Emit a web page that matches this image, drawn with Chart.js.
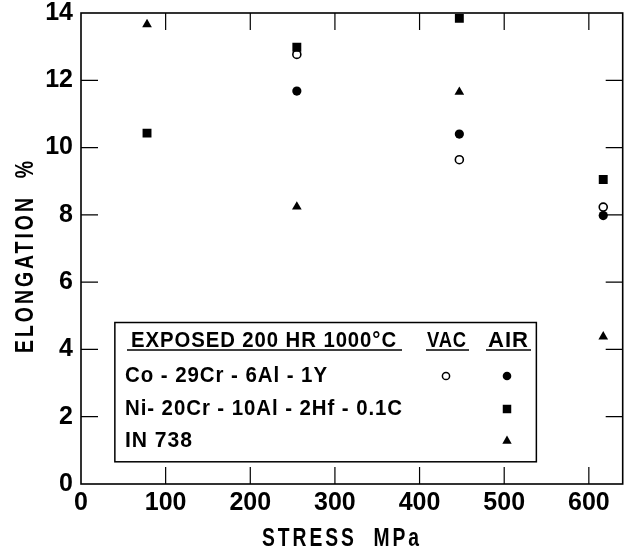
<!DOCTYPE html>
<html>
<head>
<meta charset="utf-8">
<script src="https://cdn.jsdelivr.net/npm/chart.js@4.4.0/dist/chart.umd.min.js"></script>
<style>
  html, body { margin: 0; padding: 0; background: #fff; }
  #wrap { width: 629px; height: 552px; }
</style>
</head>
<body>
<div id="wrap"><canvas id="elongChart" width="629" height="552"></canvas></div>
<script>
// stress levels (MPa) the samples were tested at
const stressLevels = [78, 255, 447, 617];
// elongation % at each stress level (null = not tested)
const coVac    = [null, 12.77, 9.64, 8.23];
const coAir    = [null, 11.68, 10.40, 7.98];
const niAir    = [10.43, 12.98, 13.84, 9.05];
const in738Air = [13.66, 8.24, 11.65, 4.38];

const xTicks = [0, 100, 200, 300, 400, 500, 600];
const yTicks = [0, 2, 4, 6, 8, 10, 12, 14];

const alloyNames = ['Co - 29Cr - 6Al - 1Y', 'Ni- 20Cr - 10Al - 2Hf - 0.1C', 'IN 738'];
const legendTitle = 'EXPOSED 200 HR 1000°C';

const FONT = '"Liberation Sans", Arial, sans-serif';

function toPoints(vals) {
    const pts = [];
    vals.forEach((v, i) => {
        if (v !== null) pts.push({ x: stressLevels[i], y: v });
    });
    return pts;
}

// squeeze text horizontally so it spans the given width (lettering is narrow)
function fitText(ctx, text, x, y, width) {
    const w = ctx.measureText(text).width;
    ctx.save();
    ctx.translate(x, y);
    ctx.scale(width / w, 1);
    ctx.textAlign = 'left';
    ctx.fillText(text, 0, 0);
    ctx.restore();
}

function drawMarker(ctx, style, x, y, r, filled) {
    ctx.save();
    ctx.fillStyle = filled ? '#000' : '#fff';
    ctx.strokeStyle = '#000';
    ctx.lineWidth = 1.5;
    ctx.beginPath();
    if (style === 'circle') {
        ctx.arc(x, y, r, 0, Math.PI * 2);
    } else if (style === 'rect') {
        const s = r * Math.SQRT1_2;
        ctx.rect(x - s, y - s, 2 * s, 2 * s);
    } else {
        ctx.moveTo(x, y - r);
        ctx.lineTo(x + r * 0.866, y + r / 2);
        ctx.lineTo(x - r * 0.866, y + r / 2);
        ctx.closePath();
    }
    ctx.fill();
    if (!filled) ctx.stroke();
    ctx.restore();
}

// frame, inward ticks, axis titles and the boxed key
const framePlugin = {
    id: 'frame',
    afterDraw(chart) {
        const ctx = chart.ctx;
        const a = chart.chartArea;
        const xs = chart.scales.x, ys = chart.scales.y;
        const tl = 17;
        ctx.save();
        ctx.strokeStyle = '#000';
        ctx.fillStyle = '#000';
        ctx.lineWidth = 1.6;
        ctx.strokeRect(a.left, a.top, a.right - a.left, a.bottom - a.top);
        ctx.lineWidth = 1.2;
        ctx.beginPath();
        xTicks.forEach(v => {
            if (v === 0) return;
            const px = xs.getPixelForValue(v);
            ctx.moveTo(px, a.bottom); ctx.lineTo(px, a.bottom - tl);
            ctx.moveTo(px, a.top); ctx.lineTo(px, a.top + tl);
        });
        yTicks.forEach(v => {
            if (v === 0 || v === 14) return;
            const py = ys.getPixelForValue(v);
            ctx.moveTo(a.left, py); ctx.lineTo(a.left + tl, py);
            ctx.moveTo(a.right, py); ctx.lineTo(a.right - tl, py);
        });
        ctx.stroke();

        // axis titles
        ctx.font = 'bold 26px ' + FONT;
        ctx.letterSpacing = '4px';
        ctx.textBaseline = 'middle';
        fitText(ctx, 'STRESS  MPa', 262, 539, 160);
        ctx.save();
        ctx.translate(26, 353);
        ctx.rotate(-Math.PI / 2);
        fitText(ctx, 'ELONGATION  %', 0, 0, 195);
        ctx.restore();
        ctx.letterSpacing = '0px';

        // key box, placed in data units
        const bl = xs.getPixelForValue(40), br = xs.getPixelForValue(538);
        const bt = ys.getPixelForValue(4.8), bb = ys.getPixelForValue(0.66);
        ctx.lineWidth = 1.5;
        ctx.strokeRect(bl, bt, br - bl, bb - bt);

        const vacX = 446, airX = 507;
        const rows = [376, 409, 441];
        ctx.font = 'bold 22px ' + FONT;
        ctx.letterSpacing = '1px';
        fitText(ctx, legendTitle, 131, 341, 266);
        fitText(ctx, 'VAC', 427, 341, 40);
        fitText(ctx, 'AIR', 488, 341, 41);
        ctx.lineWidth = 1.5;
        ctx.beginPath();
        ctx.moveTo(127, 350); ctx.lineTo(402, 350);
        ctx.moveTo(426, 350); ctx.lineTo(469, 350);
        ctx.moveTo(486, 350); ctx.lineTo(531, 350);
        ctx.stroke();
        const widths = [203, 278, 68];
        alloyNames.forEach((n, i) => fitText(ctx, n, 125, rows[i], widths[i]));
        ctx.letterSpacing = '0px';

        drawMarker(ctx, 'circle', vacX, rows[0], 3.6, false);
        drawMarker(ctx, 'circle', airX, rows[0], 4.3, true);
        drawMarker(ctx, 'rect', airX, rows[1], 6, true);
        drawMarker(ctx, 'triangle', airX, rows[2], 5.4, true);
        ctx.restore();
    }
};

const ctx = document.getElementById('elongChart').getContext('2d');
new Chart(ctx, {
    type: 'scatter',
    data: {
        datasets: [
            {
                label: 'Ni-20Cr-10Al-2Hf-0.1C AIR',
                data: toPoints(niAir),
                pointStyle: 'rect',
                pointRadius: 6.3,
                backgroundColor: '#000',
                borderColor: '#000',
                borderWidth: 0
            },
            {
                label: 'Co-29Cr-6Al-1Y VAC',
                data: toPoints(coVac),
                pointStyle: 'circle',
                pointRadius: 4,
                backgroundColor: '#fff',
                borderColor: '#000',
                borderWidth: 1.6
            },
            {
                label: 'Co-29Cr-6Al-1Y AIR',
                data: toPoints(coAir),
                pointStyle: 'circle',
                pointRadius: 4.6,
                backgroundColor: '#000',
                borderColor: '#000',
                borderWidth: 0
            },
            {
                label: 'IN 738 AIR',
                data: toPoints(in738Air),
                pointStyle: 'triangle',
                pointRadius: 5.6,
                backgroundColor: '#000',
                borderColor: '#000',
                borderWidth: 0
            }
        ]
    },
    options: {
        responsive: false,
        animation: false,
        layout: { padding: { top: 13, right: 4, left: 0, bottom: 0 } },
        plugins: {
            legend: { display: false },
            tooltip: { enabled: false }
        },
        scales: {
            x: {
                type: 'linear',
                min: 0,
                max: 640,
                afterBuildTicks: s => { s.ticks = xTicks.map(v => ({ value: v })); },
                afterFit: s => { s.height = 68; s.paddingLeft = 0; s.paddingRight = 0; },
                grid: { display: false, drawTicks: false },
                border: { display: false },
                ticks: {
                    color: '#000',
                    padding: 4,
                    maxRotation: 0,
                    font: { family: FONT, size: 25, weight: 'bold' }
                }
            },
            y: {
                min: 0,
                max: 14,
                afterBuildTicks: s => { s.ticks = yTicks.map(v => ({ value: v })); },
                afterFit: s => { s.width = 81; s.paddingTop = 0; s.paddingBottom = 0; },
                grid: { display: false, drawTicks: false },
                border: { display: false },
                ticks: {
                    color: '#000',
                    padding: 8,
                    font: { family: FONT, size: 25, weight: 'bold' }
                }
            }
        }
    },
    plugins: [framePlugin]
});
</script>
</body>
</html>
